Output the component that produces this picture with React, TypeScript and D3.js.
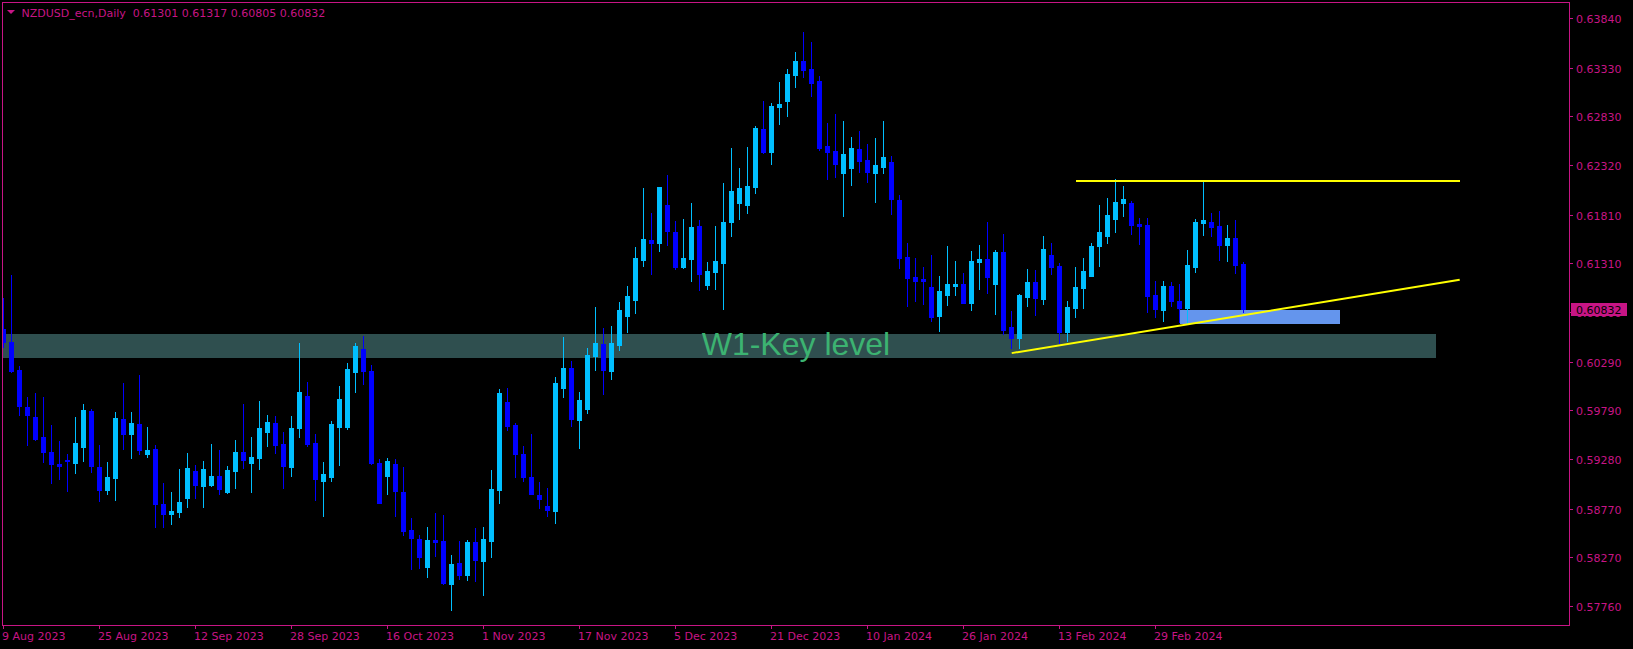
import React from "react";
import * as d3 from "d3";

// ---------- DATA ----------
const symbolTitle = "NZDUSD_ecn,Daily";
const lastQuote = ["0.61301", "0.61317", "0.60805", "0.60832"];

const open = [
  0.60627, 0.60493, 0.60203, 0.59818, 0.59714, 0.59507, 0.59356, 0.59232, 0.59273, 0.59246,
  0.59411, 0.59776, 0.59197, 0.58966, 0.5909, 0.59694, 0.59545, 0.59645, 0.59339, 0.59383,
  0.58815, 0.58718, 0.58739, 0.58884, 0.59159, 0.59008, 0.59015, 0.59108, 0.58946, 0.59163,
  0.59356, 0.59246, 0.59297, 0.59566, 0.59656, 0.59439, 0.59204, 0.59607, 0.59935, 0.59445,
  0.59059, 0.59101, 0.59618, 0.59618, 0.60186, 0.60421, 0.60193, 0.59239, 0.59111, 0.59232,
  0.58942, 0.5855, 0.58456, 0.5817, 0.58446, 0.58436, 0.57995, 0.58208, 0.58088, 0.58425,
  0.58233, 0.58439, 0.58966, 0.59873, 0.59635, 0.59335, 0.59097, 0.58911, 0.58801, 0.58749,
  0.60021, 0.60224, 0.5969, 0.59804, 0.60352, 0.60472, 0.60197, 0.60465, 0.60765, 0.6093,
  0.61344, 0.61547, 0.6152, 0.61909, 0.6163, 0.61272, 0.61354, 0.61692, 0.61086, 0.6122,
  0.61313, 0.61737, 0.61933, 0.61912, 0.62099, 0.62695, 0.6246, 0.62926, 0.62987, 0.63256,
  0.63398, 0.63315, 0.63191, 0.62519, 0.62467, 0.62243, 0.62295, 0.62488, 0.62374, 0.62243,
  0.62305, 0.62354, 0.61961, 0.61372, 0.61161, 0.61144, 0.61061, 0.60765, 0.60982, 0.61075,
  0.61092, 0.609, 0.6132, 0.61351, 0.61096, 0.61423, 0.60648, 0.60538, 0.60961, 0.61113,
  0.60941, 0.61392, 0.61278, 0.606, 0.60848, 0.61055, 0.61179, 0.61489, 0.61592, 0.61768,
  0.61933, 0.6193, 0.61716, 0.61702, 0.60979, 0.60827, 0.61072, 0.60917, 0.60848, 0.61272,
  0.61726, 0.61733, 0.61692, 0.61499, 0.61568, 0.61301,
];
const high = [
  0.60951, 0.61186, 0.60245, 0.59924, 0.59962, 0.59924, 0.59635, 0.5947, 0.59335, 0.59718,
  0.59852, 0.59797, 0.59428, 0.59252, 0.59769, 0.60066, 0.59769, 0.60152, 0.59614, 0.59428,
  0.59035, 0.58942, 0.5918, 0.59346, 0.59221, 0.59263, 0.59439, 0.59377, 0.59211, 0.5948,
  0.59852, 0.59511, 0.59883, 0.59738, 0.59728, 0.59563, 0.59728, 0.60483, 0.60079, 0.59542,
  0.59252, 0.59676, 0.60038, 0.60276, 0.60483, 0.60555, 0.60255, 0.59283, 0.59294, 0.59283,
  0.59201, 0.58674, 0.58498, 0.58581, 0.58725, 0.58705, 0.58291, 0.58436, 0.58446, 0.5857,
  0.58581, 0.5917, 0.60007, 0.60017, 0.59656, 0.59418, 0.59542, 0.59049, 0.58987, 0.60131,
  0.60545, 0.60296, 0.59976, 0.60431, 0.60855, 0.60638, 0.60658, 0.60906, 0.61072, 0.61475,
  0.62085, 0.61826, 0.621, 0.62219, 0.61744, 0.61764, 0.6193, 0.61754, 0.6132, 0.61692,
  0.62136, 0.62498, 0.62291, 0.62509, 0.62726, 0.62984, 0.62963, 0.6318, 0.63315, 0.63491,
  0.63697, 0.63594, 0.63242, 0.62757, 0.6285, 0.62777, 0.62612, 0.62674, 0.6254, 0.62602,
  0.62777, 0.62416, 0.62012, 0.61516, 0.61361, 0.61268, 0.61392, 0.61175, 0.61485, 0.6133,
  0.61206, 0.61434, 0.61496, 0.61733, 0.61444, 0.61609, 0.60813, 0.60989, 0.61247, 0.61237,
  0.61589, 0.61516, 0.61306, 0.60917, 0.61268, 0.61361, 0.61516, 0.61909, 0.61981, 0.62178,
  0.62105, 0.6195, 0.61775, 0.61775, 0.61123, 0.61123, 0.61113, 0.61092, 0.61444, 0.61764,
  0.62147, 0.61826, 0.61847, 0.61702, 0.61754, 0.61317,
];
const low = [
  0.60445, 0.60183, 0.59738, 0.59428, 0.5948, 0.59256, 0.59032, 0.59077, 0.58953, 0.59142,
  0.59266, 0.59153, 0.58853, 0.58925, 0.58863, 0.59387, 0.59297, 0.59339, 0.59308, 0.58584,
  0.58584, 0.58615, 0.58687, 0.58791, 0.58884, 0.58791, 0.59008, 0.58925, 0.58935, 0.58987,
  0.59194, 0.58946, 0.59184, 0.59418, 0.59349, 0.58987, 0.59111, 0.59514, 0.59421, 0.58863,
  0.58698, 0.59059, 0.59225, 0.59597, 0.59976, 0.60062, 0.59232, 0.58825, 0.58925, 0.58698,
  0.58501, 0.5815, 0.5816, 0.58067, 0.58284, 0.57995, 0.57726, 0.58046, 0.58036, 0.58026,
  0.57881, 0.58274, 0.58832, 0.59587, 0.59101, 0.59059, 0.58918, 0.5878, 0.58698, 0.58625,
  0.59928, 0.59628, 0.59401, 0.59762, 0.60203, 0.59959, 0.60114, 0.60414, 0.606, 0.60796,
  0.61282, 0.61199, 0.61437, 0.61499, 0.61251, 0.61261, 0.61127, 0.61034, 0.61044, 0.61044,
  0.60837, 0.61592, 0.61768, 0.6183, 0.62037, 0.6245, 0.62336, 0.6275, 0.62832, 0.63132,
  0.63236, 0.63039, 0.62481, 0.62181, 0.62202, 0.61799, 0.62119, 0.62254, 0.6215, 0.61944,
  0.62243, 0.6182, 0.61261, 0.60869, 0.6092, 0.60889, 0.60713, 0.6061, 0.60879, 0.60982,
  0.60893, 0.60827, 0.61044, 0.61003, 0.60786, 0.60576, 0.60431, 0.60434, 0.60868, 0.60775,
  0.60889, 0.61199, 0.60486, 0.60507, 0.60755, 0.60848, 0.61179, 0.61282, 0.6152, 0.61633,
  0.61799, 0.61613, 0.61509, 0.60806, 0.60755, 0.60713, 0.60868, 0.60703, 0.60693, 0.6122,
  0.61602, 0.61592, 0.61344, 0.61334, 0.6121, 0.60805,
];
const close = [
  0.60496, 0.60193, 0.59835, 0.59738, 0.5949, 0.59359, 0.59235, 0.59215, 0.59263, 0.59449,
  0.5979, 0.59215, 0.58966, 0.59094, 0.59707, 0.59545, 0.59656, 0.5938, 0.59377, 0.58822,
  0.58718, 0.58746, 0.58839, 0.5919, 0.59015, 0.5918, 0.59108, 0.58977, 0.5917, 0.59356,
  0.59277, 0.59304, 0.59604, 0.59666, 0.59428, 0.59215, 0.59604, 0.59976, 0.59442, 0.59077,
  0.59128, 0.59645, 0.59904, 0.60214, 0.60452, 0.60197, 0.59242, 0.58832, 0.59263, 0.58953,
  0.58543, 0.5847, 0.5827, 0.58446, 0.58429, 0.58005, 0.58198, 0.58084, 0.58425, 0.58243,
  0.58456, 0.58973, 0.59966, 0.59628, 0.59339, 0.59101, 0.58925, 0.58873, 0.5876, 0.60069,
  0.60224, 0.597, 0.59893, 0.60358, 0.60483, 0.60207, 0.60483, 0.60824, 0.60968, 0.61361,
  0.61558, 0.6152, 0.62095, 0.61644, 0.61272, 0.61361, 0.61682, 0.61199, 0.61227, 0.6133,
  0.61733, 0.62054, 0.62085, 0.62105, 0.62705, 0.62457, 0.62932, 0.62953, 0.63263, 0.63398,
  0.63308, 0.63174, 0.62502, 0.6246, 0.62336, 0.62436, 0.62498, 0.62367, 0.62254, 0.62323,
  0.62405, 0.61975, 0.61365, 0.61158, 0.61127, 0.61127, 0.60755, 0.6102, 0.61092, 0.61092,
  0.609, 0.6133, 0.61351, 0.61168, 0.61423, 0.6062, 0.60538, 0.60975, 0.61113, 0.60951,
  0.61454, 0.61272, 0.606, 0.60855, 0.61061, 0.61227, 0.61485, 0.6163, 0.61806, 0.6194,
  0.61971, 0.61706, 0.61695, 0.60972, 0.60837, 0.61072, 0.6092, 0.60848, 0.61289, 0.61733,
  0.61754, 0.61685, 0.61499, 0.61568, 0.61292, 0.60832,
];

const priceTicks = [0.6384, 0.6333, 0.6283, 0.6232, 0.6181, 0.6131, 0.608, 0.6029, 0.5979, 0.5928, 0.5877, 0.5827, 0.5776];
const dateLabels = [
  "9 Aug 2023", "25 Aug 2023", "12 Sep 2023", "28 Sep 2023", "16 Oct 2023", "1 Nov 2023",
  "17 Nov 2023", "5 Dec 2023", "21 Dec 2023", "10 Jan 2024", "26 Jan 2024", "13 Feb 2024", "29 Feb 2024",
];
const dateLabelIndex = [0, 12, 24, 36, 48, 60, 72, 84, 96, 108, 120, 132, 144];

// chart objects (bar index / price)
const keyZone = { i1: -20, i2: 179, p1: 0.60576, p2: 0.60331, label: "W1-Key level", labelI: 87.25, labelP: 0.60358 };
const blueZone = { i1: 147, i2: 167, p1: 0.60824, p2: 0.60679 };
const resistance = { i1: 134, i2: 182, p: 0.6216 };
const trendline = { i1: 126, p1: 0.60378, i2: 182, p2: 0.61137 };
const lastPrice = 0.60832;

// ---------- STYLE ----------
const W = 1633;
const H = 649;
const AX = "#C71585";
const BULL = "#00BFFF";
const BEAR = "#0000FF";
const FONT = "'DejaVu Sans', Verdana, sans-serif";
const plot = { left: 2, top: 2, right: 1569, bottom: 625 };

export default function App() {
  const x = d3.scaleLinear().domain([0, 144]).range([3.7, 1155.7]);
  const y = d3.scaleLinear().domain([0.6384, 0.5776]).range([18.2, 606.4]);

  const candles = open.map((o, i) => {
    const c = close[i];
    const h = high[i];
    const l = low[i];
    const bull = c >= o;
    const col = bull ? BULL : BEAR;
    const wx = Math.floor(x(i));
    const bx = Math.round(x(i) - 2.5);
    const top = Math.round(y(Math.max(o, c)));
    const bot = Math.round(y(Math.min(o, c)));
    const wt = Math.round(y(h));
    const wb = Math.round(y(l));
    return (
      <g key={i}>
        <rect x={wx} y={wt} width={1} height={Math.max(1, wb - wt + 1)} fill={col} />
        <rect x={bx} y={top} width={5} height={Math.max(1, bot - top + 1)} fill={col} />
      </g>
    );
  });

  const ly = y(lastPrice);

  return (
    <svg
      width={W}
      height={H}
      style={{ position: "absolute", left: 0, top: 0, display: "block", background: "#000" }}
    >
      <defs>
        <clipPath id="plotClip">
          <rect x={plot.left + 1} y={plot.top + 1} width={plot.right - plot.left - 1} height={plot.bottom - plot.top - 1} />
        </clipPath>
      </defs>
      <rect x={0} y={0} width={W} height={H} fill="#000" />

      <g clipPath="url(#plotClip)">
        {/* key level zone */}
        <rect
          x={Math.round(x(keyZone.i1))}
          y={Math.round(y(keyZone.p1))}
          width={Math.round(x(keyZone.i2)) - Math.round(x(keyZone.i1))}
          height={Math.round(y(keyZone.p2)) - Math.round(y(keyZone.p1))}
          fill="#2F4F4F"
          shapeRendering="crispEdges"
        />
        <rect
          x={Math.round(x(blueZone.i1))}
          y={Math.round(y(blueZone.p1))}
          width={Math.round(x(blueZone.i2)) - Math.round(x(blueZone.i1))}
          height={Math.round(y(blueZone.p2)) - Math.round(y(blueZone.p1))}
          fill="#6495ED"
          shapeRendering="crispEdges"
        />
        <text
          x={x(keyZone.labelI)}
          y={y(keyZone.labelP)}
          fill="#3CB371"
          fontFamily="'Liberation Sans', Arial, sans-serif"
          fontSize={32}
        >
          {keyZone.label}
        </text>

        <g shapeRendering="crispEdges">{candles}</g>

        <line
          x1={x(resistance.i1)}
          x2={x(resistance.i2)}
          y1={Math.round(y(resistance.p))}
          y2={Math.round(y(resistance.p))}
          stroke="#FFFF00"
          strokeWidth={2}
          shapeRendering="crispEdges"
        />
        <line
          x1={x(trendline.i1)}
          y1={y(trendline.p1)}
          x2={x(trendline.i2)}
          y2={y(trendline.p2)}
          stroke="#FFFF00"
          strokeWidth={2}
        />
      </g>

      {/* frame */}
      <rect
        x={plot.left + 0.5}
        y={plot.top + 0.5}
        width={plot.right - plot.left}
        height={plot.bottom - plot.top}
        fill="none"
        stroke={AX}
        strokeWidth={1}
        shapeRendering="crispEdges"
      />

      {/* header */}
      <polygon points="7,10 15,10 11,14" fill={AX} />
      <text x={21.5} y={17} fill={AX} fontFamily={FONT} fontSize={11} style={{ whiteSpace: "pre" }}>
        {symbolTitle + "  " + lastQuote.join(" ")}
      </text>

      {/* price axis */}
      {priceTicks.map((v) => {
        const ty = Math.round(y(v)) + 0.5;
        return (
          <g key={v}>
            <line x1={plot.right + 1} x2={plot.right + 4} y1={ty} y2={ty} stroke={AX} shapeRendering="crispEdges" />
            <text x={1576} y={ty + 4} fill={AX} fontFamily={FONT} fontSize={11}>
              {v.toFixed(5)}
            </text>
          </g>
        );
      })}
      <rect x={1571} y={Math.round(ly - 6.5)} width={56} height={13} fill={AX} shapeRendering="crispEdges" />
      <text x={1576} y={Math.round(ly) + 4.5} fill="#000" fontFamily={FONT} fontSize={11}>
        {lastPrice.toFixed(5)}
      </text>

      {/* time axis */}
      {dateLabels.map((lab, k) => {
        const tx = Math.floor(x(dateLabelIndex[k])) + 0.5;
        return (
          <g key={lab}>
            <line x1={tx} x2={tx} y1={plot.bottom + 1} y2={plot.bottom + 4} stroke={AX} shapeRendering="crispEdges" />
            <text x={tx - 1.5} y={640} fill={AX} fontFamily={FONT} fontSize={11}>
              {lab}
            </text>
          </g>
        );
      })}
    </svg>
  );
}
